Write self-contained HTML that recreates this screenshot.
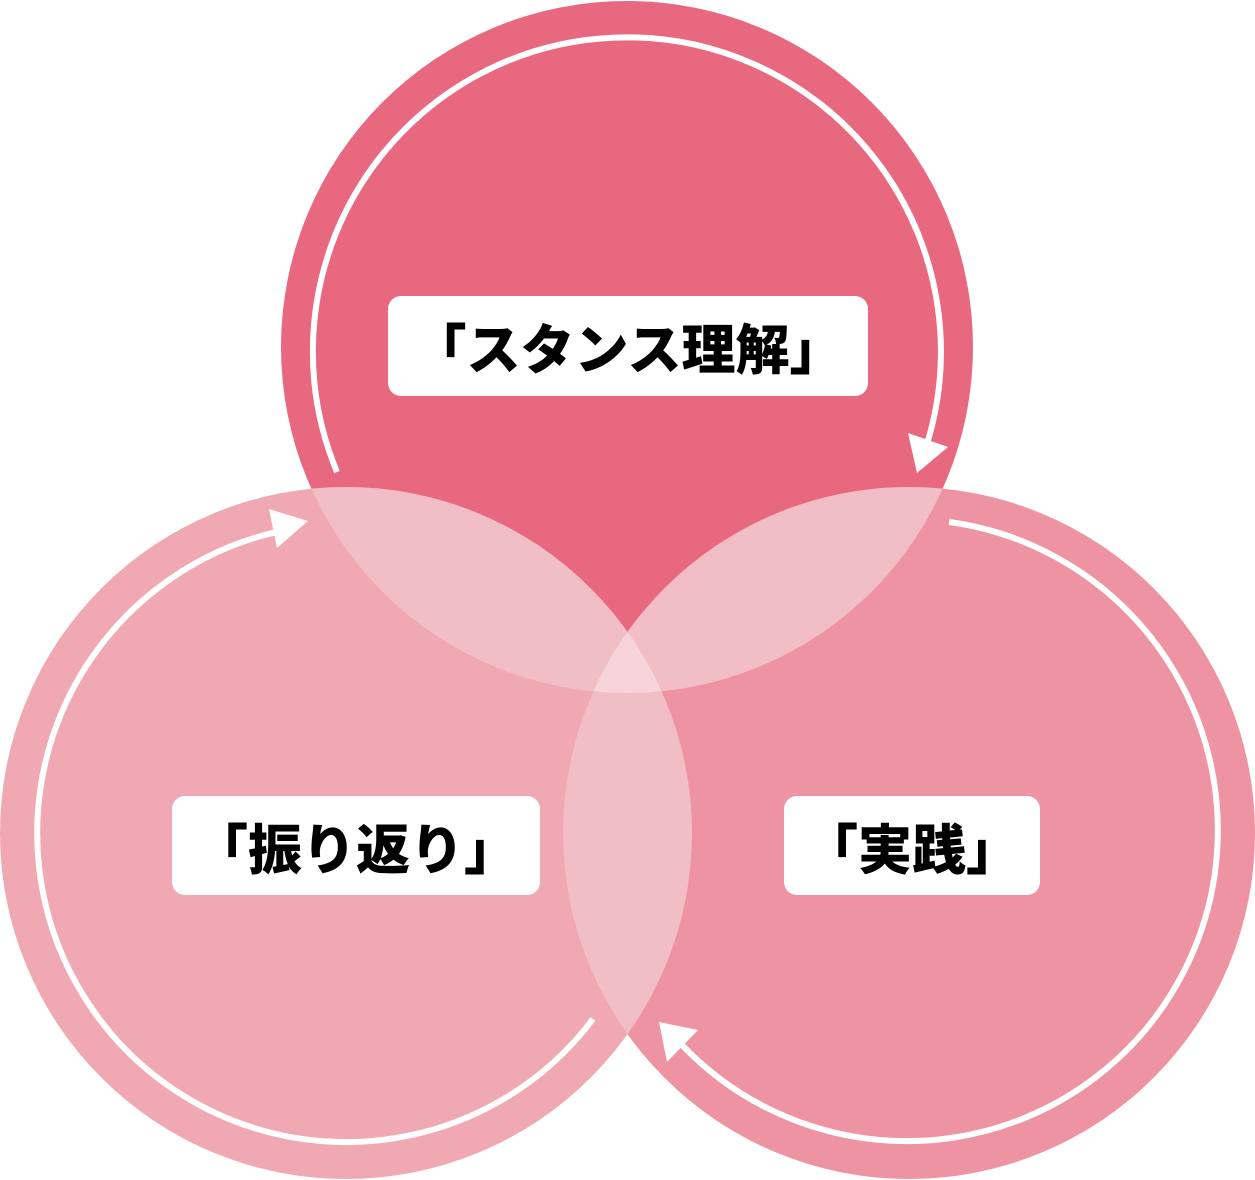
<!DOCTYPE html>
<html><head><meta charset="utf-8"><style>
html,body{margin:0;padding:0;background:#fff;}
svg{display:block;}
text{font-family:"Liberation Sans","Noto Sans CJK JP",sans-serif;font-weight:900;font-size:54px;fill:#000;}
</style></head><body>
<svg width="1255" height="1180" viewBox="0 0 1255 1180" xmlns="http://www.w3.org/2000/svg">
<defs>
<clipPath id="cT"><circle cx="627" cy="347" r="346"/></clipPath>
<clipPath id="cL"><circle cx="346" cy="833" r="346"/></clipPath>
</defs>
<circle cx="627" cy="347" r="346" fill="#e8687f"/>
<circle cx="346" cy="833" r="346" fill="#f0a8b2"/>
<circle cx="909" cy="833" r="346" fill="#ee93a1"/>
<g clip-path="url(#cT)"><circle cx="346" cy="833" r="346" fill="#f2bec6"/><circle cx="909" cy="833" r="346" fill="#f2bec6"/></g>
<g clip-path="url(#cL)"><circle cx="909" cy="833" r="346" fill="#f2bec6"/></g>
<g clip-path="url(#cT)"><g clip-path="url(#cL)"><circle cx="909" cy="833" r="346" fill="#f7d4da"/></g></g>
<g fill="none" stroke="#fff" stroke-width="6">
<path d="M 337 472 A 314 314 0 1 1 925 450"/>
<path d="M 593 1019 A 309 309 0 1 1 286 530"/>
<path d="M 949 522 A 311 311 0 1 1 682 1045"/>
</g>
<g fill="#fff">
<polygon points="908,433 948,447 917,473"/>
<polygon points="269,509 308,521 277,548"/>
<polygon points="659,1022 698,1030 667,1062"/>
</g>
<rect x="388" y="296" width="480" height="100" rx="13" fill="#fff"/>
<rect x="172" y="796" width="368" height="99" rx="13" fill="#fff"/>
<rect x="784" y="796" width="256" height="99" rx="13" fill="#fff"/>
<text x="628" y="369" text-anchor="middle">「スタンス理解」</text>
<text x="356" y="869" text-anchor="middle">「振り返り」</text>
<text x="912" y="869" text-anchor="middle">「実践」</text>
</svg>
</body></html>
